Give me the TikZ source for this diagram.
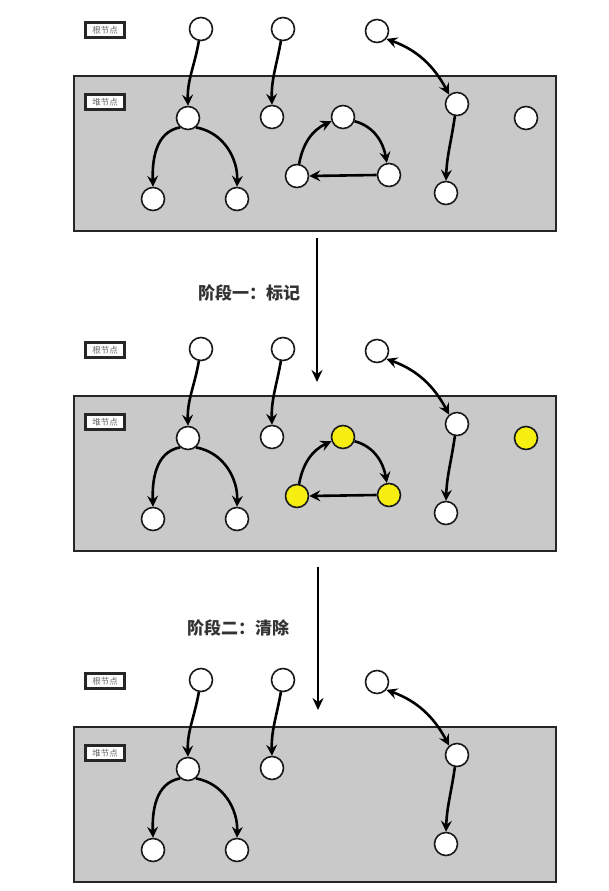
\documentclass[tikz,border=0pt]{standalone}
\usepackage{fontspec}
\newfontfamily\cjk{Noto Sans CJK SC}
\usetikzlibrary{arrows.meta}
\definecolor{heapgray}{HTML}{C9C9C9}
\definecolor{markyellow}{HTML}{F5EE10}
\definecolor{txtgray}{HTML}{333333}
\tikzset{
  circ/.style={circle, draw=black!90, line width=1.6pt, fill=white, minimum size=23pt, inner sep=0pt},
  ycirc/.style={circ, fill=markyellow},
  heapbox/.style={draw=black!85, line width=2.2pt, fill=heapgray, minimum width=482pt, minimum height=155pt, inner sep=0pt},
  tag/.style={draw=black!85, line width=2.2pt, fill=white, minimum width=39pt, minimum height=15pt, inner sep=0pt, text=black!60, font=\cjk\fontsize{8.5}{9}\selectfont},
  arr/.style={line width=2.6pt, -{Stealth[length=11pt,width=11pt,inset=4pt]}},
  darr/.style={line width=2.6pt, {Stealth[length=11pt,width=11pt,inset=4pt]}-{Stealth[length=11pt,width=11pt,inset=4pt]}},
  bigarr/.style={line width=2.4pt, -{Stealth[length=12pt,width=11pt,inset=4pt]}},
  phase/.style={text=txtgray, font=\cjk\bfseries\fontsize{17}{18}\selectfont}
}
\newcommand\commonpanel[2]{%
  \begin{scope}[yshift=-#2pt]
    \node[heapbox] (box#1) at (315,-153.5) {};
    \node[tag] (rl#1) at (105,-30) {根节点};
    \node[tag] (hl#1) at (105,-102) {堆节点};
    \node[circ] (Ra#1) at (201,-29) {};
    \node[circ] (Rb#1) at (283,-29) {};
    \node[circ] (Rc#1) at (377,-31) {};
    \node[circ] (A#1) at (188,-118) {};
    \node[circ] (B#1) at (272,-117) {};
    \node[circ] (F#1) at (153,-199) {};
    \node[circ] (G#1) at (237,-199) {};
    \node[circ] (H#1) at (457,-104) {};
    \node[circ] (I#1) at (446,-193) {};
  \end{scope}
  \draw[arr] (Ra#1.-100) to[out=-100,in=92] (A#1.north);
  \draw[arr] (Rb#1.-100) to[out=-100,in=92] (B#1.north);
  \draw[darr] (Rc#1.-40) to[out=-20,in=118] (H#1.130);
  \draw[arr] (A#1.-130) to[out=190,in=92] (F#1.north);
  \draw[arr] (A#1.-50) to[out=-10,in=88] (G#1.north);
  \draw[arr] (H#1.-100) to[out=-98,in=88] (I#1.north);
}
\newcommand\cyclepanel[3]{%
  \begin{scope}[yshift=-#2pt]
    \node[#3] (C#1) at (343,-117) {};
    \node[#3] (D#1) at (297,-176) {};
    \node[#3] (E#1) at (389,-175) {};
    \node[#3] (J#1) at (526,-118) {};
  \end{scope}
  \draw[arr] (D#1.80) to[out=80,in=205] (C#1.200);
  \draw[arr] (C#1.-20) to[out=-15,in=100] (E#1.100);
  \draw[arr] (E#1.west) -- (D#1.east);
}
\begin{document}
\begin{tikzpicture}[x=1pt,y=1pt]
  \useasboundingbox[fill=white] (0,0) rectangle (608,-891);
  \commonpanel{1}{0}
  \cyclepanel{1}{0}{circ}
  \commonpanel{2}{320}
  \cyclepanel{2}{320}{ycirc}
  \commonpanel{3}{651}
  \coordinate (s1) at (317,-238);
  \coordinate (e1) at (317,-382);
  \coordinate (s2) at (318,-567);
  \coordinate (e2) at (318,-710);
  \draw[bigarr] (s1) -- (e1);
  \draw[bigarr] (s2) -- (e2);
  \node[phase] (p1) at (249,-293) {阶段一：标记};
  \node[phase] (p2) at (238,-628) {阶段二：清除};
\end{tikzpicture}
\end{document}
